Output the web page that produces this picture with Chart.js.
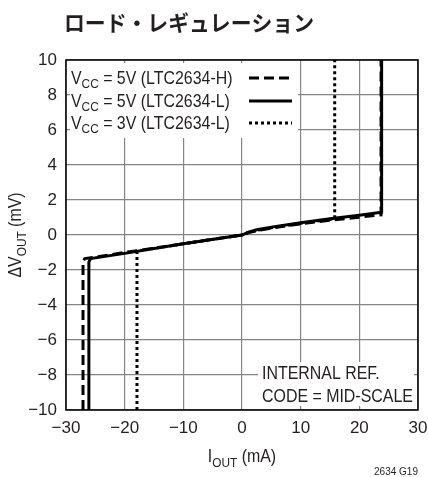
<!DOCTYPE html>
<html><head><meta charset="utf-8">
<script src="https://cdn.jsdelivr.net/npm/chart.js@4"></script>
<style>html,body{margin:0;padding:0;background:#fff}canvas{display:block}</style>
</head><body>
<canvas id="c" width="428" height="477"></canvas>
<script>
// ---- data ----
const xTickValues = [-30, -20, -10, 0, 10, 20, 30];
const yTickValues = [-10, -8, -6, -4, -2, 0, 2, 4, 6, 8, 10];

const vcc5H_x = [-27.1, -27.1, -26.8, -20, -10, 0, 1, 2.5, 5, 10, 15, 20, 23.7, 23.7];
const vcc5H_y = [-10, -1.5, -1.35, -1.0, -0.5, 0, 0.12, 0.25, 0.4, 0.64, 0.85, 1.02, 1.15, 10];

const vcc5L_x = [-26.1, -26.1, -25.8, -20, -10, 0, 1, 2.5, 5, 10, 15, 20, 23.8, 23.8];
const vcc5L_y = [-10, -1.55, -1.35, -1.05, -0.5, 0, 0.15, 0.3, 0.45, 0.7, 0.93, 1.13, 1.3, 10];

const vcc3L_x = [-17.9, -17.9, -10, 0, 1, 2.5, 5, 10, 15.8, 15.8];
const vcc3L_y = [-10, -0.92, -0.5, 0, 0.13, 0.27, 0.42, 0.67, 0.93, 10];

const legendLabels = [
  ["V", "CC", " = 5V (LTC2634-H)"],
  ["V", "CC", " = 5V (LTC2634-L)"],
  ["V", "CC", " = 3V (LTC2634-L)"]
];
const titleText = "ロード・レギュレーション";
const noteLines = ["INTERNAL REF.", "CODE = MID-SCALE"];
const xTitle = ["I", "OUT", " (mA)"];
const yTitle = ["\u0394V", "OUT", " (mV)"];
const figId = "2634 G19";

const toPts = (xs, ys) => xs.map((x, i) => ({x: x, y: ys[i]}));
const FONT = '"Liberation Sans", Arial, sans-serif';
const INK = '#231f20';
const SX = 0.91;
const fmt = v => (v < 0 ? '\u2212' + Math.abs(v) : String(v));
const dashStyles = [[10, 5], [], [3, 3]];

function richWidth(ctx, parts, big, small) {
  ctx.font = big + 'px ' + FONT; let w = ctx.measureText(parts[0]).width + ctx.measureText(parts[2]).width;
  ctx.font = small + 'px ' + FONT; w += ctx.measureText(parts[1]).width;
  return w * SX;
}
function drawRich(ctx, parts, x, y, big, small, drop) {
  ctx.save();
  ctx.translate(x, y);
  ctx.scale(SX, 1);
  let cx = 0;
  ctx.font = big + 'px ' + FONT; ctx.fillText(parts[0], cx, 0); cx += ctx.measureText(parts[0]).width;
  ctx.font = small + 'px ' + FONT; ctx.fillText(parts[1], cx, drop); cx += ctx.measureText(parts[1]).width;
  ctx.font = big + 'px ' + FONT; ctx.fillText(parts[2], cx, 0);
  ctx.restore();
}
function drawPlain(ctx, text, x, y, size) {
  ctx.save();
  ctx.translate(x, y);
  ctx.scale(SX, 1);
  ctx.font = size + 'px ' + FONT;
  ctx.fillText(text, 0, 0);
  ctx.restore();
}

const overlay = {
  id: 'overlay',
  beforeDatasetsDraw(chart) {
    const ctx = chart.ctx, a = chart.chartArea;
    ctx.save();
    ctx.fillStyle = '#fff';
    ctx.fillRect(70, 63, 228, 75);
    ctx.fillRect(258, 362, 156, 44);
    ctx.strokeStyle = '#000';
    ctx.lineWidth = 1.5;
    ctx.strokeRect(a.left, a.top, a.right - a.left, a.bottom - a.top);
    ctx.restore();
  },
  afterDraw(chart) {
    const ctx = chart.ctx, a = chart.chartArea;
    ctx.save();
    ctx.fillStyle = INK;
    ctx.textBaseline = 'middle';
    ctx.textAlign = 'left';
    ctx.font = 'bold 22px "Noto Sans CJK JP", sans-serif';
    ctx.fillText(titleText, 64, 23, 250);
    ctx.textBaseline = 'alphabetic';
    const rowY = [84, 107, 129];
    legendLabels.forEach((parts, i) => {
      const y = rowY[i];
      drawRich(ctx, parts, 71, y, 17.5, 13, 4);
      ctx.beginPath();
      ctx.setLineDash(dashStyles[i]);
      ctx.lineWidth = 3;
      ctx.strokeStyle = '#000';
      ctx.moveTo(249, y - 6);
      ctx.lineTo(292, y - 6);
      ctx.stroke();
    });
    ctx.setLineDash([]);
    drawPlain(ctx, noteLines[0], 262, 379, 17.5);
    drawPlain(ctx, noteLines[1], 262, 402, 17.5);
    const xw = richWidth(ctx, xTitle, 17.5, 13);
    drawRich(ctx, xTitle, (a.left + a.right) / 2 - xw / 2, 462, 17.5, 13, 5);
    ctx.save();
    ctx.translate(21, (a.top + a.bottom) / 2);
    ctx.rotate(-Math.PI / 2);
    const yw = richWidth(ctx, yTitle, 17.5, 13);
    drawRich(ctx, yTitle, -yw / 2, 0, 17.5, 13, 5);
    ctx.restore();
    ctx.textAlign = 'right';
    drawPlain(ctx, figId, 418, 475, 11);
    ctx.restore();
  }
};

new Chart(document.getElementById('c'), {
  type: 'scatter',
  data: {
    datasets: [
      {label: 'H', data: toPts(vcc5H_x, vcc5H_y), borderDash: dashStyles[0]},
      {label: 'L5', data: toPts(vcc5L_x, vcc5L_y), borderDash: dashStyles[1]},
      {label: 'L3', data: toPts(vcc3L_x, vcc3L_y), borderDash: dashStyles[2]}
    ].map(d => Object.assign(d, {
      showLine: true, borderColor: '#000', backgroundColor: '#000',
      borderWidth: 3, pointRadius: 0, tension: 0, borderCapStyle: 'butt', borderJoinStyle: 'miter'
    }))
  },
  options: {
    responsive: false,
    animation: false,
    events: [],
    layout: {padding: {left: 0, right: 0, top: 60, bottom: 37}},
    plugins: {legend: {display: false}, tooltip: {enabled: false}, title: {display: false}},
    scales: {
      x: {
        type: 'linear', min: -30, max: 30,
        afterFit: s => { s.height = 30; s.paddingRight = 10; s.paddingLeft = 0; },
        afterBuildTicks: s => { s.ticks = xTickValues.map(v => ({value: v})); },
        grid: {color: '#858585', lineWidth: 1.2, drawTicks: false},
        border: {display: false},
        ticks: {padding: 8, color: INK, font: {family: FONT, size: 17}, callback: fmt, maxRotation: 0}
      },
      y: {
        type: 'linear', min: -10, max: 10,
        afterFit: s => { s.width = 66; },
        afterBuildTicks: s => { s.ticks = yTickValues.map(v => ({value: v})); },
        grid: {color: '#858585', lineWidth: 1.2, drawTicks: false},
        border: {display: false},
        ticks: {padding: 9, color: INK, font: {family: FONT, size: 17}, callback: fmt}
      }
    }
  },
  plugins: [overlay]
});
</script>
</body></html>
